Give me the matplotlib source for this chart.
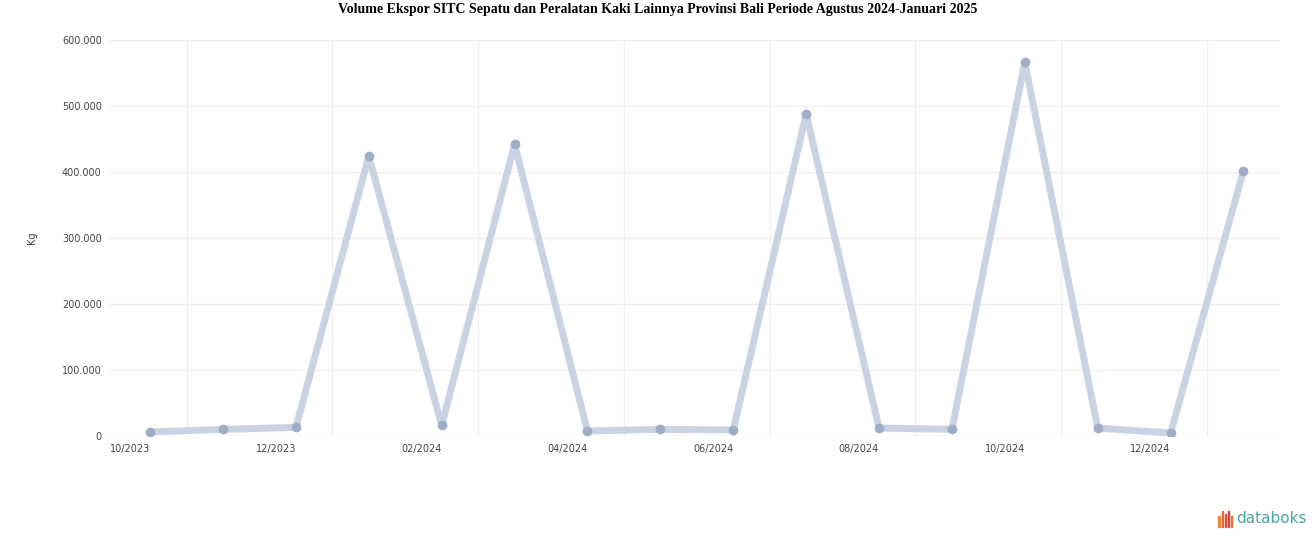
import matplotlib.pyplot as plt
from matplotlib.patches import Rectangle

# Monthly export volume (kg), Oct 2023 - Jan 2025
months = ["10/2023", "11/2023", "12/2023", "01/2024", "02/2024", "03/2024",
          "04/2024", "05/2024", "06/2024", "07/2024", "08/2024", "09/2024",
          "10/2024", "11/2024", "12/2024", "01/2025"]
volume = [6000, 10000, 13000, 424000, 16000, 442000,
          7500, 10000, 9000, 488000, 12000, 10000,
          566000, 12000, 4500, 402000]
y_ticks = [0, 100000, 200000, 300000, 400000, 500000, 600000]
y_labels = ["0", "100.000", "200.000", "300.000", "400.000", "500.000", "600.000"]

fig = plt.figure(figsize=(13.16, 5.47), dpi=100)
ax = fig.add_axes([0.0836, 0.203, 0.889, 0.724])

x = list(range(len(months)))
ax.plot(x, volume, color="#c9d3e3", linewidth=5, solid_joinstyle="round",
        solid_capstyle="round", zorder=3)
ax.plot(x, volume, linestyle="none", marker="o", markersize=6,
        color="#9fadc6", zorder=4)

ax.set_xlim(-0.55, 15.5)
ax.set_ylim(0, 600000)

# grid
for yv in y_ticks[1:]:
    ax.axhline(yv, color="#f0f0f0", linewidth=1, zorder=1)
for gx in [i + 0.5 for i in range(0, len(months), 2)]:
    ax.axvline(gx, color="#f0f0f0", linewidth=1, zorder=1)
ax.axhline(0, color="#e6e6e6", linewidth=1, zorder=2)

ax.set_yticks(y_ticks)
ax.set_yticklabels(y_labels, fontsize=7, color="#444444")
ax.set_xticks(x[::2])
ax.set_xticklabels(months[::2], fontsize=7, color="#444444", ha="right")
ax.tick_params(length=0, pad=6)
for s in ax.spines.values():
    s.set_visible(False)

ax.set_ylabel("Kg", fontsize=7, color="#444444", labelpad=18)

fig.suptitle("Volume Ekspor SITC Sepatu dan Peralatan Kaki Lainnya Provinsi Bali Periode Agustus 2024-Januari 2025",
             fontsize=10, fontweight="bold", family="Liberation Serif", y=0.995, va="top")

# databoks mark
bars = [(0.9258, 0.020, "#f08a3c"), (0.9282, 0.030, "#e8653a"),
        (0.9306, 0.024, "#e04f3a"), (0.9330, 0.030, "#d94035"),
        (0.9354, 0.020, "#e8733a")]
for bx, bh, bc in bars:
    fig.patches.append(Rectangle((bx, 0.036), 0.0011, bh, color=bc,
                                 transform=fig.transFigure, figure=fig))
fig.text(0.9395, 0.052, "databoks", fontsize=11, color="#4ca7a4", va="center",
         family="DejaVu Sans")

fig.savefig("out.png", dpi=100)
